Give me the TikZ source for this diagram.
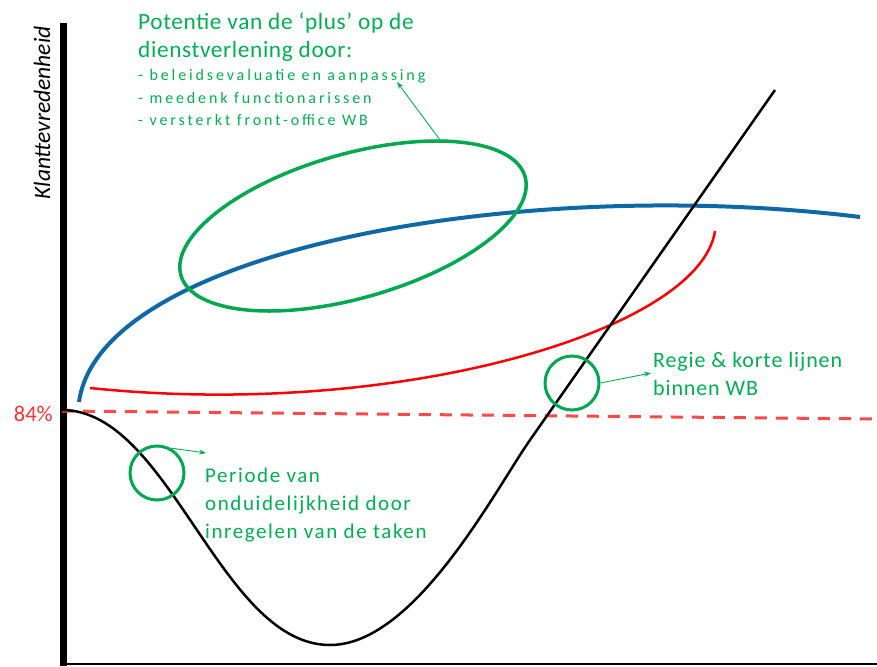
\documentclass[tikz,border=0pt]{standalone}
\usepackage{fontspec}
\setmainfont{Carlito}
\newfontfamily\smallspaced[LetterSpace=18]{Carlito}
\newfontfamily\midspaced[LetterSpace=7.5]{Carlito}
\newfontfamily\regiespaced[LetterSpace=4]{Carlito}
\newfontfamily\bigspaced[LetterSpace=2.7]{Carlito}
\usetikzlibrary{arrows.meta,shapes.geometric}
\definecolor{grn}{RGB}{0,176,80}
\definecolor{grnline}{RGB}{0,168,80}
\definecolor{blu}{RGB}{14,104,166}
\definecolor{dashred}{RGB}{255,72,72}
\definecolor{pctred}{RGB}{255,50,50}
\begin{document}
\begin{tikzpicture}[x=1pt,y=-1pt,
  gtext/.style={text=grn,inner sep=0,anchor=base west,font=\fontsize{21}{24}\midspaced},
  gregie/.style={text=grn,inner sep=0,anchor=base west,font=\fontsize{22}{24}\regiespaced},
  gbig/.style={text=grn,inner sep=0,anchor=base west,font=\fontsize{23.3}{28}\bigspaced},
  gsmall/.style={text=grn,inner sep=0,anchor=base west,font=\fontsize{16}{20}\smallspaced},
  ring/.style={draw=grnline,line width=3pt,circle,minimum size=54pt,inner sep=0},
  garrow/.style={draw=grn,line width=0.9pt,-{Stealth[length=7pt,width=5pt]}}]
\useasboundingbox (0,0) rectangle (877,666);
% axes
\coordinate (ytop) at (63,23);
\coordinate (ybot) at (63,666);
\coordinate (xleft) at (60,664);
\coordinate (xright) at (877,664);
\draw[line width=7pt] (ytop) -- (ybot);
\draw[line width=2.5pt] (xleft) -- (xright);
\node[rotate=90,inner sep=0,font=\fontsize{23.5}{26}\itshape] (ylab) at (42,113) {Klanttevredenheid};
% 84% line
\coordinate (d1) at (62,411);
\coordinate (d2) at (877,419);
\draw[dashred,line width=3pt,dash pattern=on 12pt off 9pt] (d1) -- (d2);
\node[text=pctred,inner sep=0,anchor=east,font=\fontsize{22.5}{24}\selectfont] (pct) at (53,414) {84\%};
% blue curve
\coordinate (b0) at (79,402);
\coordinate (b1) at (860,217);
\draw[blu,line width=4pt] (b0) .. controls (100,250) and (520,175) .. (b1);
% red curve
\coordinate (r0) at (90,388);
\coordinate (rr1) at (715,231);
\draw[red,line width=2.5pt] (r0) .. controls (400,420) and (700,330) .. (rr1);
% black curve
\coordinate (k0) at (62,410);
\coordinate (kmin) at (330,645);
\coordinate (kmid) at (530,440);
\coordinate (kend) at (775,90);
\draw[line width=2.5pt] (k0) .. controls (170,410) and (220,645) .. (kmin)
  .. controls (415,645) and (495,490) .. (kmid) -- (kend);
% green ellipse
\node[ellipse,draw=grnline,line width=3.5pt,minimum width=358pt,minimum height=144pt,rotate=16,inner sep=0] (ell) at (353,226) {};
% texts
\node[gbig] (p1) at (138,30) {Potentie van de ‘plus’ op de};
\node[gbig] (p2) at (138,58) {dienstverlening door:};
\node[gsmall] (p3) at (138,81) {- beleidsevaluatie en aanpassing};
\node[gsmall] (p4) at (138,103) {- meedenk functionarissen};
\node[gsmall] (p5) at (138,125) {- versterkt front-office WB};
\coordinate (h1) at (397,82);
\draw[garrow] (ell.29) -- (h1);
% circle 1
\node[ring] (c1) at (157,473) {};
\coordinate (h2) at (206,453);
\draw[garrow] (c1.61) -- (h2);
\node[gtext] (q1) at (205,482) {Periode van};
\node[gtext] (q2) at (205,510) {onduidelijkheid door};
\node[gtext] (q3) at (205,538) {inregelen van de taken};
% circle 2
\node[ring] (c2) at (572,383) {};
\coordinate (h3) at (651,373);
\draw[garrow] (c2.east) -- (h3);
\node[gregie] (r1) at (653,367) {Regie \& korte lijnen};
\node[gregie] (r2) at (653,395) {binnen WB};
\end{tikzpicture}
\end{document}
